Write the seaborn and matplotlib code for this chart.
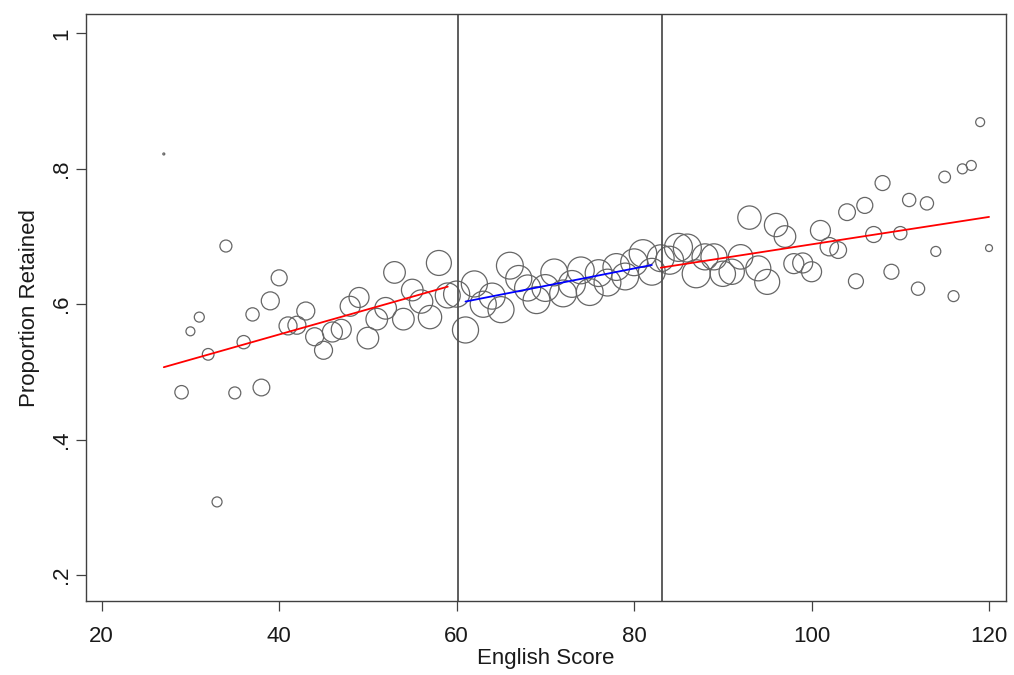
import matplotlib
matplotlib.use("Agg")
import matplotlib.pyplot as plt
import pandas as pd
import seaborn as sns

# English score, proportion retained, number of students (marker weight)
score = list(range(27, 28)) + list(range(29, 121))
retained = [
    0.822,
    0.470, 0.560, 0.581, 0.526, 0.308, 0.686, 0.469, 0.544, 0.585, 0.477,
    0.605, 0.639, 0.568, 0.569, 0.590, 0.552, 0.532, 0.559, 0.563, 0.597,
    0.610, 0.550, 0.578, 0.594, 0.647, 0.578, 0.621, 0.604, 0.581, 0.661,
    0.613, 0.615, 0.562, 0.630, 0.600, 0.612, 0.592, 0.657, 0.638, 0.624,
    0.606, 0.624, 0.647, 0.616, 0.630, 0.650, 0.618, 0.646, 0.632, 0.655,
    0.641, 0.662, 0.675, 0.648, 0.668, 0.665, 0.684, 0.683, 0.645, 0.670,
    0.670, 0.645, 0.648, 0.670, 0.728, 0.653, 0.633, 0.717, 0.700, 0.660,
    0.661, 0.648, 0.709, 0.685, 0.680, 0.736, 0.634, 0.746, 0.703, 0.779,
    0.648, 0.705, 0.754, 0.623, 0.749, 0.678, 0.788, 0.612, 0.800, 0.805,
    0.869, 0.683,
]
students = [
    1,
    45, 20, 25, 34, 25, 36, 36, 44, 44, 70,
    81, 64, 81, 81, 81, 81, 81, 100, 100, 100,
    100, 117, 117, 117, 117, 117, 117, 136, 136, 156,
    156, 170, 170, 170, 170, 170, 170, 180, 170, 170,
    180, 180, 180, 180, 180, 180, 180, 180, 180, 180,
    180, 180, 190, 180, 180, 196, 196, 196, 196, 170,
    170, 160, 160, 150, 136, 156, 156, 136, 117, 100,
    100, 100, 100, 84, 70, 70, 56, 64, 64, 56,
    56, 44, 44, 44, 44, 25, 34, 30, 25, 25,
    20, 12,
]

# fitted lines
fit_lo_x = [27, 59]
fit_lo_y = [0.507, 0.626]
fit_mid_x = [61, 82]
fit_mid_y = [0.604, 0.658]
fit_hi_x = [83, 120]
fit_hi_y = [0.654, 0.729]
cutoffs = [60.2, 83.1]

xticks = [20, 40, 60, 80, 100, 120]
yticks = [0.2, 0.4, 0.6, 0.8, 1.0]
ytick_labels = [".2", ".4", ".6", ".8", "1"]

df = pd.DataFrame({"score": score, "retained": retained, "n": students})

sns.set_theme(style="white")
plt.rcParams["font.family"] = ["Liberation Sans", "DejaVu Sans"]

fig, ax = plt.subplots(figsize=(10.14, 6.75), dpi=100)
fig.subplots_adjust(left=0.0848, right=0.992, bottom=0.1096, top=0.979)

sns.scatterplot(data=df, x="score", y="retained", size="n", sizes=(2, 406),
                size_norm=(1, 196), fc="none", ec="#666666", linewidth=0.9,
                legend=False, ax=ax)

for cut in cutoffs:
    ax.axvline(cut, color="#505050", lw=1.3)

sns.lineplot(x=fit_lo_x, y=fit_lo_y, color="#ff0000", lw=1.3, ax=ax)
sns.lineplot(x=fit_mid_x, y=fit_mid_y, color="#0000ff", lw=1.3, ax=ax)
sns.lineplot(x=fit_hi_x, y=fit_hi_y, color="#ff0000", lw=1.3, ax=ax)

ax.set_xlim(18.23, 121.9)
ax.set_ylim(0.1616, 1.0285)
ax.set_xticks(xticks)
ax.set_yticks(yticks, ytick_labels)
ax.tick_params(axis="both", direction="out", length=7, width=0.9,
               color="#404040", labelsize=16, labelcolor="#1a1a1a",
               bottom=True, left=True)
ax.tick_params(axis="x", pad=11)
ax.tick_params(axis="y", pad=3)
for lab in ax.get_yticklabels():
    lab.set_rotation(90)
    lab.set_va("center")

for side in ax.spines.values():
    side.set_color("#404040")
    side.set_linewidth(1.0)

ax.set_xlabel("English Score", fontsize=16, labelpad=1, color="#1a1a1a")
ax.set_ylabel("Proportion Retained", fontsize=16, labelpad=8, color="#1a1a1a")

fig.savefig("out.png", dpi=100)
